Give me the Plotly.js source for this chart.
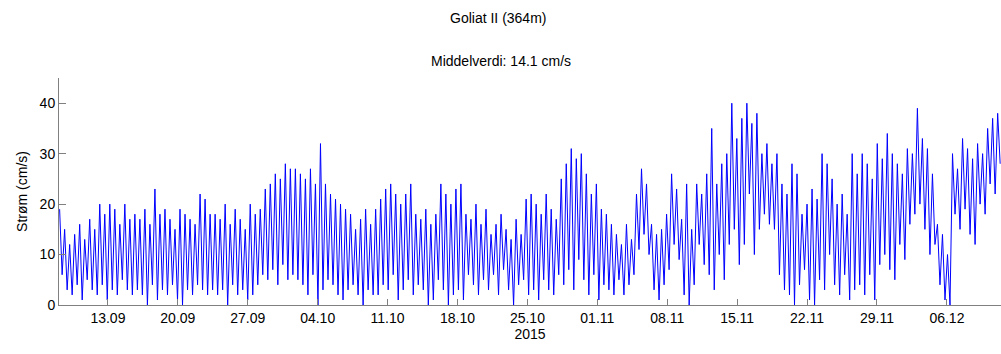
<!DOCTYPE html>
<html>
<head>
<meta charset="utf-8">
<script src="https://cdn.plot.ly/plotly-3.0.1.min.js"></script>
<style>html,body{margin:0;padding:0;background:#fff;}#chart{width:1001px;height:354px;}</style>
</head>
<body>
<div id="chart"></div>
<script>
// Tidal-cycle highs and lows (cm/s), in time order
var cycleHigh = [
  19,15,12,14,16,13,17,15,20,18,20,19,16,20,17,
  18,17,19,16,23,18,19,17,15,19,18,17,16,22,21,18,
  18,17,20,16,19,17,15,20,18,19,23,24,26,25,28,27,
  27,26,25,27,24,32,24,22,21,20,19,18,15,17,19,16,
  19,21,23,24,22,20,22,24,18,17,19,16,18,24,22,20,
  23,24,18,17,20,16,19,14,16,18,15,13,17,14,21,22,
  20,18,22,19,17,25,28,31,29,30,26,22,24,19,18,16,
  14,12,16,13,22,27,24,16,14,15,18,26,23,17,24,15,
  24,22,26,35,24,28,30,40,33,37,40,36,38,30,32,28,
  30,24,22,28,26,18,20,23,21,30,28,25,20,22,18,30,
  26,30,28,25,32,29,34,30,28,26,31,30,39,33,31,26,
  16,14,10,30,27,33,31,29,32,30,35,37,38
];
var cycleLow = [
  6,3,2,4,1,5,3,2,4,1,3,2,5,3,2,
  3,2,0,4,1,3,2,4,1,0,3,2,4,3,2,3,
  2,3,0,4,2,3,1,2,4,6,5,7,4,8,5,6,
  5,4,2,6,0,3,5,4,2,1,3,4,2,0,3,2,
  2,4,3,6,1,3,5,2,4,3,0,1,5,3,0,2,
  3,1,6,4,2,5,3,6,2,7,3,0,4,5,2,3,
  1,5,3,2,6,4,7,3,9,5,2,6,1,4,3,2,
  5,2,4,6,11,14,10,3,1,4,7,12,9,2,0,4,
  12,8,6,3,10,5,12,15,8,12,22,10,15,18,16,15,
  6,3,2,0,4,7,1,0,5,3,10,4,2,6,1,3,
  4,2,6,1,8,10,7,5,12,9,16,18,20,15,10,12,
  4,1,0,18,15,19,14,12,20,18,24,22,28
];
var seriesStart = '2015-09-08T04:00:00';
var seriesEnd = '2015-12-11T08:00:00';
var xTickStart = '2015-09-13';
var title1 = 'Goliat II (364m)';
var title2 = 'Middelverdi: 14.1 cm/s';
var yLabel = 'Strøm (cm/s)';
var xLabel = '2015';

// interleave highs and lows, spread evenly over the record
var vals = [];
for (var i = 0; i < cycleHigh.length; i++) { vals.push(cycleHigh[i]); vals.push(cycleLow[i]); }
var t0 = new Date(seriesStart + 'Z').getTime();
var t1 = new Date(seriesEnd + 'Z').getTime();
var times = vals.map(function (v, i) {
  return new Date(t0 + (t1 - t0) * i / (vals.length - 1)).toISOString().slice(0, 19);
});

var font = 'Liberation Sans, Arial, sans-serif';
var fs = 14;
var trace = {
  x: times, y: vals, type: 'scatter', mode: 'lines',
  line: {color: '#0000ff', width: 1}, hoverinfo: 'skip'
};
var layout = {
  width: 1001, height: 354,
  margin: {l: 59, r: 0, t: 78, b: 49},
  paper_bgcolor: '#ffffff', plot_bgcolor: '#ffffff',
  showlegend: false,
  font: {family: font, size: fs, color: '#000'},
  xaxis: {
    type: 'date',
    range: ['2015-09-08T02:30:00', '2015-12-11T10:00:00'],
    tick0: xTickStart, dtick: 7 * 86400000, tickformat: '%d.%m',
    ticks: 'inside', ticklen: 6, tickcolor: '#808080',
    showline: true, linecolor: '#808080', linewidth: 1,
    showgrid: false, zeroline: false,
    tickfont: {family: font, size: fs, color: '#000'},
    title: {text: xLabel, font: {family: font, size: fs, color: '#000'}, standoff: 1}
  },
  yaxis: {
    range: [0, 45], tick0: 0, dtick: 10,
    ticks: 'inside', ticklen: 7, tickcolor: '#808080',
    showline: true, linecolor: '#808080', linewidth: 1,
    showgrid: false, zeroline: false,
    tickfont: {family: font, size: fs, color: '#000'},
    title: {text: yLabel, font: {family: font, size: fs, color: '#000'}, standoff: 8}
  },
  annotations: [
    {text: title1, xref: 'paper', yref: 'paper', x: 0.466, y: 1.0, yshift: 60,
     showarrow: false, xanchor: 'center', yanchor: 'middle', font: {family: font, size: fs, color: '#000'}},
    {text: title2, xref: 'paper', yref: 'paper', x: 0.469, y: 1.0, yshift: 17,
     showarrow: false, xanchor: 'center', yanchor: 'middle', font: {family: font, size: fs, color: '#000'}}
  ]
};
Plotly.newPlot('chart', [trace], layout, {staticPlot: true, displayModeBar: false});
</script>
</body>
</html>
